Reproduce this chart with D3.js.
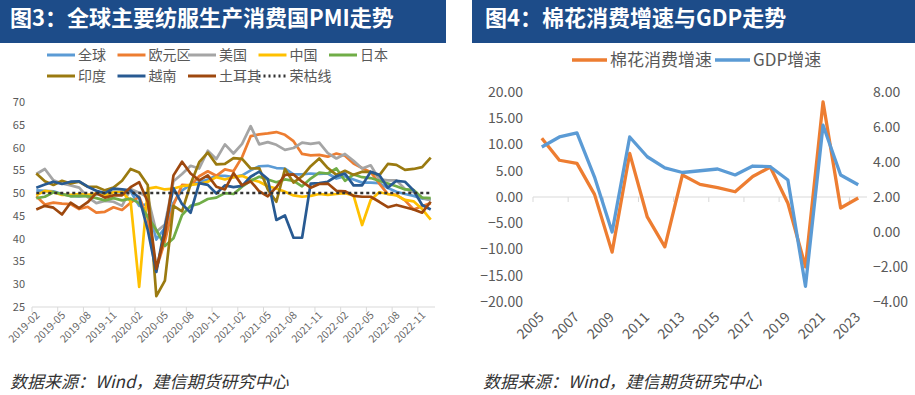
<!DOCTYPE html>
<html>
<head>
<meta charset="utf-8">
<script src="https://cdn.jsdelivr.net/npm/d3@7"></script>
<style>
  body { margin: 0; background: #fff; }
  text { font-family: "Noto Sans CJK SC", "Noto Sans", sans-serif; }
</style>
</head>
<body>
<div id="chart"></div>
<script>
// ---------- left chart data (PMI) ----------
const months = ["2019-02","2019-03","2019-04","2019-05","2019-06","2019-07","2019-08","2019-09","2019-10","2019-11","2019-12",
  "2020-01","2020-02","2020-03","2020-04","2020-05","2020-06","2020-07","2020-08","2020-09","2020-10","2020-11","2020-12",
  "2021-01","2021-02","2021-03","2021-04","2021-05","2021-06","2021-07","2021-08","2021-09","2021-10","2021-11","2021-12",
  "2022-01","2022-02","2022-03","2022-04","2022-05","2022-06","2022-07","2022-08","2022-09","2022-10","2022-11","2022-12"]

const global = [50.6,50.5,50.4,49.8,49.4,49.3,49.5,49.7,49.8,50.3,50.1,
  50.4,47.2,47.6,39.8,42.4,47.9,50.6,51.8,52.4,53.0,53.8,53.8,
  53.5,53.9,55.0,55.9,56.0,55.5,55.4,54.1,54.1,54.3,54.2,54.3,
  53.2,53.7,53.0,52.3,52.3,52.2,51.1,50.3,49.8,49.4,48.8,48.6]
const euro = [49.3,47.5,47.9,47.7,47.6,46.5,47.0,45.7,45.9,46.9,46.3,
  47.9,49.2,44.5,33.4,39.4,47.4,51.8,51.7,53.7,54.8,53.8,55.2,
  54.8,57.9,62.5,62.9,63.1,63.4,62.8,61.4,58.6,58.3,58.4,58.0,
  58.7,58.2,56.5,55.5,54.6,52.1,49.8,49.6,48.4,46.4,47.1,47.8]
const usa = [54.2,55.3,52.8,52.1,51.7,51.2,49.1,47.8,48.3,48.1,47.2,
  50.9,50.1,49.1,41.5,43.1,52.6,54.2,56.0,55.4,59.3,57.5,60.7,
  58.7,60.8,64.7,60.7,61.2,60.6,59.5,59.9,61.1,60.8,61.1,58.8,
  57.6,58.6,57.1,55.4,56.1,53.0,52.8,52.8,50.9,50.2,49.0,48.4]
const china = [49.5,50.5,50.2,49.6,49.6,49.8,49.6,49.9,49.5,50.2,50.3,
  48.2,29.4,51.0,51.3,50.8,51.0,51.5,51.8,52.0,52.5,53.5,53.0,
  53.5,53.8,53.0,52.5,51.5,51.0,50.3,49.5,49.2,49.4,49.8,49.6,
  49.8,50.0,49.5,43.0,48.5,50.2,49.8,49.5,48.5,48.2,46.5,44.2]
const japan = [48.9,49.2,50.2,49.8,49.3,49.4,49.3,48.9,48.4,48.9,48.4,
  48.8,47.8,44.8,41.9,38.4,40.1,45.2,47.2,47.7,48.7,49.0,50.0,
  49.8,51.4,52.7,53.6,53.0,52.4,53.0,52.7,51.5,53.2,54.5,54.3,
  55.4,52.7,54.1,53.5,53.3,52.7,52.1,51.5,50.8,50.7,49.0,48.9]
const india = [54.3,52.6,51.8,52.7,52.1,52.5,51.4,51.4,50.6,51.2,52.7,
  55.3,54.5,51.8,27.4,30.8,47.2,46.0,52.0,56.8,58.9,56.3,56.4,
  57.7,57.5,55.4,55.5,50.8,48.1,55.3,52.3,53.7,55.9,57.6,55.5,
  54.0,54.9,54.0,54.7,54.6,53.9,56.4,56.2,55.1,55.3,55.7,57.8]
const vietnam = [51.2,51.9,52.5,52.0,52.5,52.6,51.4,50.5,50.0,51.0,50.8,
  50.6,49.0,41.9,32.7,42.7,51.1,47.6,45.7,52.2,51.8,49.9,51.7,
  51.3,51.6,53.6,54.7,53.1,44.1,45.1,40.2,40.2,52.1,52.2,52.5,
  53.7,54.3,51.7,51.7,54.7,54.0,51.2,52.7,52.5,50.6,47.4,46.4]
const turkey = [46.4,47.2,46.8,45.3,47.9,46.7,48.0,50.0,49.0,49.5,49.5,
  51.3,52.4,48.1,33.4,40.9,53.9,56.9,54.3,52.8,53.9,51.4,50.8,
  54.4,51.7,52.6,50.4,49.3,51.3,54.0,54.1,52.5,51.2,52.0,52.1,
  50.5,50.4,49.4,49.2,49.2,48.1,46.9,47.4,46.9,46.4,45.7,48.1]
const boomBust = 50

const pmiNames = ["全球","欧元区","美国","中国","日本","印度","越南","土耳其","荣枯线"]
const pmiTicks = [25,30,35,40,45,50,55,60,65,70]

// ---------- right chart data ----------
const years = ["2005","2006","2007","2008","2009","2010","2011","2012","2013","2014",
  "2015","2016","2017","2018","2019","2020","2021","2022","2023"]
const cotton = [11.2,7.0,6.4,0.5,-10.5,8.3,-3.8,-9.5,4.2,2.4,1.8,1.0,3.9,5.7,-1.2,-13.3,18.1,-2.1,-0.2]
const gdp = [4.86,5.43,5.66,3.14,0.0,5.43,4.3,3.66,3.4,3.5,3.6,3.26,3.77,3.73,2.97,-3.1,6.1,3.26,2.7]
const leftTicks = [-20,-15,-10,-5,0,5,10,15,20]
const rightTicks = [-4,-2,0,2,4,6,8]

const source = "数据来源：Wind，建信期货研究中心"

// ---------- svg ----------
const W = 915, H = 395
const svg = d3.select("#chart").append("svg")
    .attr("width", W).attr("height", H)

const navy = "#1d4c89"
const axisGray = "#d9d9d9"
const labelGray = "#595959"

// title banners
svg.append("rect").attr("x", 0).attr("y", 0).attr("width", 446).attr("height", 43).attr("fill", navy)
svg.append("rect").attr("x", 472).attr("y", 0).attr("width", 443).attr("height", 43).attr("fill", navy)
svg.append("text").attr("x", 10).attr("y", 26).attr("fill", "#fff")
    .attr("font-size", 22).attr("font-weight", 700)
    .text("图3：全球主要纺服生产消费国PMI走势")
svg.append("text").attr("x", 485).attr("y", 26).attr("fill", "#fff")
    .attr("font-size", 22).attr("font-weight", 700)
    .text("图4：棉花消费增速与GDP走势")

// source notes
svg.selectAll("text.src").data([10, 483]).join("text")
    .attr("class", "src")
    .attr("x", d => d).attr("y", 388)
    .attr("font-size", 17).attr("font-style", "italic").attr("fill", "#333")
    .text(source)

//////////
// LEFT CHART
//////////
const pmiSeries = [
  {name: "全球", values: global, color: "#5b9bd5"},
  {name: "欧元区", values: euro, color: "#ed7d31"},
  {name: "美国", values: usa, color: "#a5a5a5"},
  {name: "中国", values: china, color: "#ffc000"},
  {name: "日本", values: japan, color: "#70ad47"},
  {name: "印度", values: india, color: "#9a7a10"},
  {name: "越南", values: vietnam, color: "#285a92"},
  {name: "土耳其", values: turkey, color: "#9e480e"},
  {name: "荣枯线", values: months.map(() => boomBust), color: "#333333", dash: "3,3"}
]

const x = d3.scaleBand().domain(months).range([32, 435])
const y = d3.scaleLinear().domain([25, 70]).range([307, 102])
const bw = x.bandwidth()

// y axis labels
const yAxis = svg.append("g")
    .attr("transform", "translate(28,0)")
    .call(d3.axisLeft(y).tickValues(pmiTicks).tickSize(0).tickPadding(3))
yAxis.select(".domain").remove()
yAxis.selectAll("text").attr("fill", labelGray).attr("font-size", 11)
    .attr("font-family", "Lato, 'Noto Sans', sans-serif")

// x axis line + ticks every 3 months
svg.append("line").attr("x1", 32).attr("x2", 435).attr("y1", 307).attr("y2", 307)
    .attr("stroke", axisGray)
const xTickMonths = months.filter((d, i) => i % 3 === 0)
svg.selectAll("line.xt").data(xTickMonths).join("line")
    .attr("class", "xt")
    .attr("x1", d => x(d)).attr("x2", d => x(d))
    .attr("y1", 307).attr("y2", 312)
    .attr("stroke", axisGray)
svg.selectAll("text.xl").data(xTickMonths).join("text")
    .attr("class", "xl")
    .attr("transform", d => `translate(${x(d) + bw / 2 + 4},${316}) rotate(-45)`)
    .attr("text-anchor", "end")
    .attr("font-size", 10.5).attr("fill", "#666")
    .attr("font-family", "Lato, 'Noto Sans', sans-serif")
    .text(d => d)

const pmiLine = d3.line()
    .x((d, i) => x(months[i]) + bw / 2)
    .y(d => y(d))

svg.selectAll("path.pmi").data(pmiSeries).join("path")
    .attr("class", "pmi")
    .attr("d", d => pmiLine(d.values))
    .attr("fill", "none")
    .attr("stroke", d => d.color)
    .attr("stroke-width", d => d.dash ? 2.5 : 2.7)
    .attr("stroke-dasharray", d => d.dash || null)
    .attr("stroke-linejoin", "round")

// legend (2 rows)
const legend = svg.selectAll("g.leg").data(pmiSeries).join("g")
    .attr("class", "leg")
    .attr("transform", (d, i) => `translate(${47 + (i % 5) * 70.5},${i < 5 ? 55 : 76})`)
legend.append("line")
    .attr("x1", 0).attr("x2", 28).attr("y1", 0).attr("y2", 0)
    .attr("stroke", d => d.color).attr("stroke-width", 3)
    .attr("stroke-dasharray", d => d.dash ? "2,3" : null)
legend.append("text")
    .attr("x", 31).attr("y", 0).attr("dy", "0.35em")
    .attr("font-size", 14).attr("fill", labelGray)
    .text(d => d.name)

//////////
// RIGHT CHART
//////////
const x2 = d3.scaleBand().domain(years).range([533, 867])
const yL = d3.scaleLinear().domain([-20, 20]).range([302, 92])
const yR = d3.scaleLinear().domain([-4, 8]).range([302, 92])
const bw2 = x2.bandwidth()

const axL = svg.append("g")
    .attr("transform", "translate(526,0)")
    .call(d3.axisLeft(yL).tickValues(leftTicks).tickSize(0).tickPadding(3).tickFormat(d3.format(".2f")))
axL.select(".domain").remove()
axL.selectAll("text").attr("fill", labelGray).attr("font-size", 14)
    .attr("font-family", "Lato, 'Noto Sans', sans-serif")

const axR = svg.append("g")
    .attr("transform", "translate(870,0)")
    .call(d3.axisRight(yR).tickValues(rightTicks).tickSize(0).tickPadding(3).tickFormat(d3.format(".2f")))
axR.select(".domain").remove()
axR.selectAll("text").attr("fill", labelGray).attr("font-size", 14)
    .attr("font-family", "Lato, 'Noto Sans', sans-serif")

// zero axis line with ticks every 2 years
svg.append("line").attr("x1", 533).attr("x2", 867).attr("y1", yL(0)).attr("y2", yL(0))
    .attr("stroke", axisGray)
const yearTicks = years.filter((d, i) => i % 2 === 0)
svg.selectAll("line.yt").data(yearTicks).join("line")
    .attr("class", "yt")
    .attr("x1", d => x2(d)).attr("x2", d => x2(d))
    .attr("y1", yL(0)).attr("y2", yL(0) + 5)
    .attr("stroke", axisGray)
svg.selectAll("text.yl").data(yearTicks).join("text")
    .attr("class", "yl")
    .attr("transform", d => `translate(${x2(d) + bw2 / 2 + 3},${318}) rotate(-45)`)
    .attr("text-anchor", "end")
    .attr("font-size", 14).attr("fill", labelGray)
    .attr("font-family", "Lato, 'Noto Sans', sans-serif")
    .text(d => d)

const cottonLine = d3.line().x((d, i) => x2(years[i]) + bw2 / 2).y(d => yL(d))
const gdpLine = d3.line().x((d, i) => x2(years[i]) + bw2 / 2).y(d => yR(d))

svg.append("path").attr("d", cottonLine(cotton))
    .attr("fill", "none").attr("stroke", "#ed7d31").attr("stroke-width", 3.3)
    .attr("stroke-linejoin", "round")
svg.append("path").attr("d", gdpLine(gdp))
    .attr("fill", "none").attr("stroke", "#5b9bd5").attr("stroke-width", 3.3)
    .attr("stroke-linejoin", "round")

// legend
const legend2 = [
  {name: "棉花消费增速", color: "#ed7d31", x: 572},
  {name: "GDP增速", color: "#5b9bd5", x: 715}
]
const lg2 = svg.selectAll("g.leg2").data(legend2).join("g")
    .attr("class", "leg2")
    .attr("transform", d => `translate(${d.x},60)`)
lg2.append("line").attr("x1", 0).attr("x2", 35).attr("y1", 0).attr("y2", 0)
    .attr("stroke", d => d.color).attr("stroke-width", 3.5)
lg2.append("text").attr("x", 38).attr("y", 0).attr("dy", "0.35em")
    .attr("font-size", 17).attr("fill", labelGray)
    .text(d => d.name)
</script>
</body>
</html>
